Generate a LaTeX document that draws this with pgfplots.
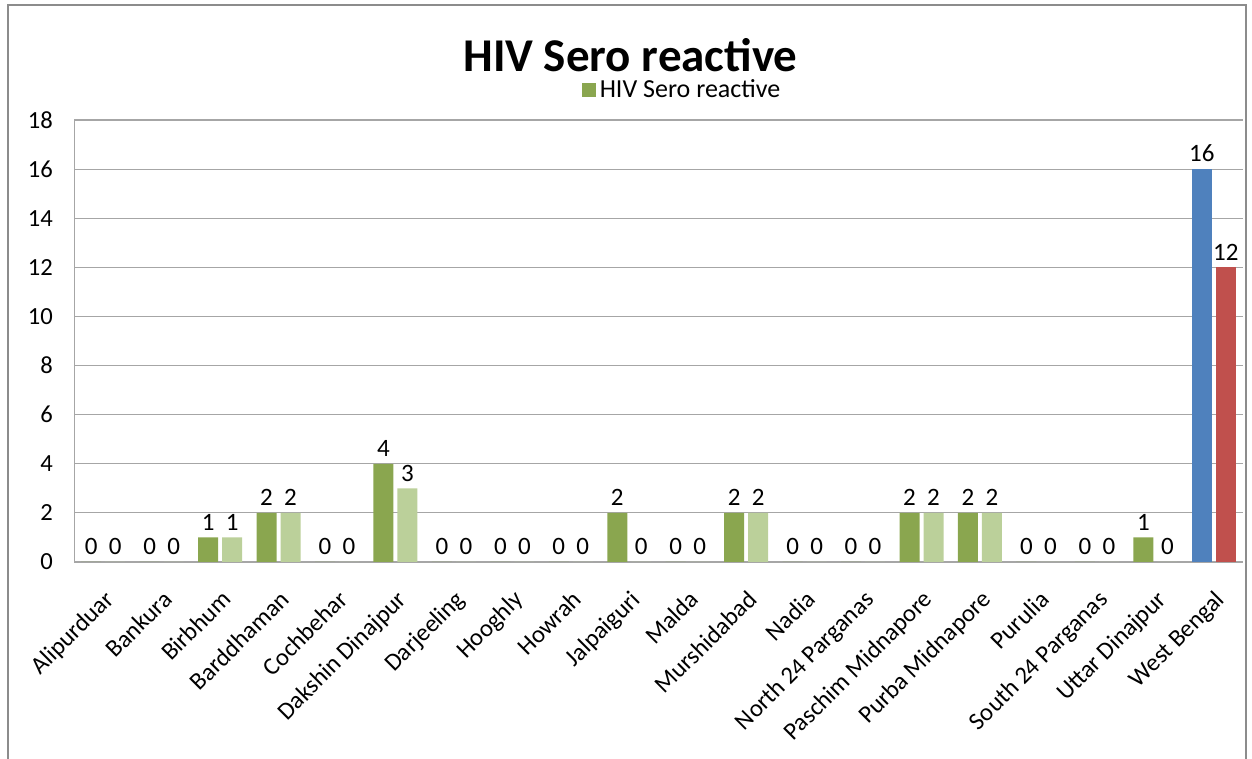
\documentclass[border=0pt]{standalone}
\usepackage{pgfplots}
\pgfplotsset{compat=1.18}
\usepackage{fontspec}
\setmainfont{Carlito}
\definecolor{dg}{HTML}{8AA64F}
\definecolor{lg}{HTML}{BBD09A}
\definecolor{wbone}{HTML}{4F81BD}
\definecolor{wbtwo}{HTML}{C0504D}
\definecolor{gridc}{HTML}{A6A6A6}
\definecolor{framec}{HTML}{8C8C8C}
\begin{document}
\begin{tikzpicture}
\useasboundingbox (0,0) rectangle (626pt,379.5pt);
\draw[framec, line width=1pt] (4pt,-2pt) -- (4pt,377pt) -- (623pt,377pt) -- (623pt,-2pt);
\begin{axis}[
  at={(37pt,98.5pt)}, anchor=south west,
  scale only axis, width=584.5pt, height=221pt,
  xmin=-0.5, xmax=19.5, ymin=0, ymax=18,
  ytick={0,2,...,18},
  xtick={0,...,19},
  xticklabels={Alipurduar,Bankura,Birbhum,Barddhaman,Cochbehar,Dakshin Dinajpur,Darjeeling,Hooghly,Howrah,Jalpaiguri,Malda,Murshidabad,Nadia,North 24 Parganas,Paschim Midnapore,Purba Midnapore,Purulia,South 24 Parganas,Uttar Dinajpur,West Bengal},
  ybar, bar width=10pt,
  axis x line*=bottom, axis y line*=left,
  axis line style={gridc, -},
  ymajorgrids, grid style={gridc, line width=0.6pt},
  major tick length=0pt,
  yticklabel style={font=\fontsize{12.3}{14}\selectfont, black, xshift=-7pt},
  xticklabel style={font=\fontsize{12.3}{14}\selectfont, black, rotate=45, anchor=north east, yshift=-6pt, xshift=-6pt},
  /pgf/number format/assume math mode=true,
  nodes near coords,
  every node near coord/.append style={font=\fontsize{12.5}{14}\selectfont, black},
  legend style={at={(0.521,1.068)}, anchor=center, draw=none, fill=none,
    font=\fontsize{13}{15}\selectfont, inner sep=0pt},
  legend image code/.code={\fill[#1] (0pt,-3.5pt) rectangle (7pt,3.5pt);},
  clip=false,
]
\addplot[fill=dg, draw=none, bar shift=-6pt] coordinates {
(0,0) (1,0) (2,1) (3,2) (4,0) (5,4) (6,0) (7,0) (8,0) (9,2)
(10,0) (11,2) (12,0) (13,0) (14,2) (15,2) (16,0) (17,0) (18,1)};
\addlegendentry{HIV Sero reactive}
\addplot[fill=lg, draw=none, bar shift=6pt, forget plot] coordinates {
(0,0) (1,0) (2,1) (3,2) (4,0) (5,3) (6,0) (7,0) (8,0) (9,0)
(10,0) (11,2) (12,0) (13,0) (14,2) (15,2) (16,0) (17,0) (18,0)};
\addplot[fill=wbone, draw=none, bar shift=-6pt, forget plot] coordinates {(19,16)};
\addplot[fill=wbtwo, draw=none, bar shift=6pt, forget plot] coordinates {(19,12)};
\node[font=\bfseries\fontsize{23.5}{26}\selectfont, anchor=center] at (rel axis cs:0.476,1.147) {HIV Sero reactive};
\end{axis}
\end{tikzpicture}
\end{document}
